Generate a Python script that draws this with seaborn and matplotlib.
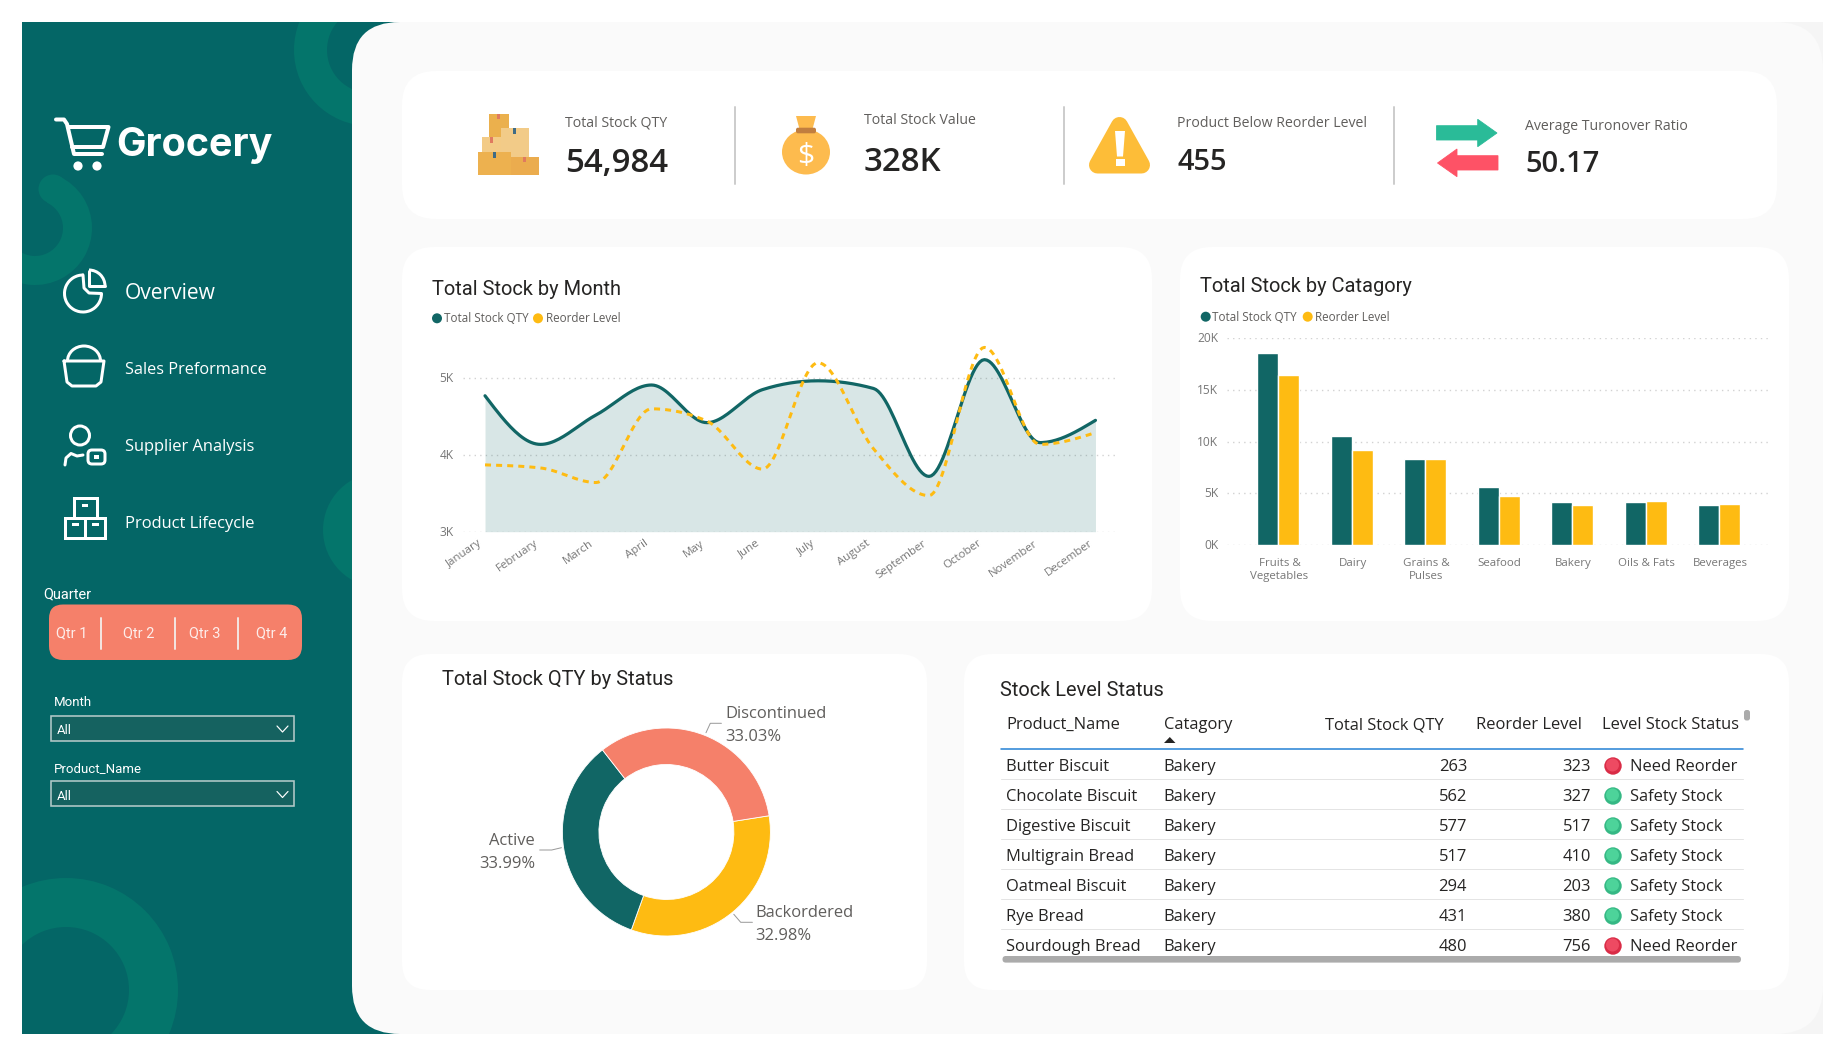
import numpy as np
import pandas as pd
import matplotlib
matplotlib.use("Agg")
import matplotlib.pyplot as plt
import seaborn as sns
from matplotlib.patches import Arc, Circle, Ellipse, FancyBboxPatch, Polygon, Rectangle, Wedge
from matplotlib.ticker import FuncFormatter
from matplotlib.transforms import ScaledTranslation

# chart values
months = ["January", "February", "March", "April", "May", "June", "July",
          "August", "September", "October", "November", "December"]
month_stock = [4770, 4137, 4520, 4910, 4420, 4850, 4965, 4865, 3720, 5240, 4160, 4450]
month_reorder = [3870, 3830, 3640, 4600, 4440, 3815, 5200, 4080, 3470, 5400, 4137, 4290]
month_ticks = [3000, 4000, 5000]

categories = ["Fruits &\nVegetables", "Dairy", "Grains &\nPulses", "Seafood",
              "Bakery", "Oils & Fats", "Beverages"]
category_stock = [18520, 10580, 8300, 5630, 4210, 4150, 3860]
category_reorder = [16400, 9200, 8330, 4760, 3890, 4280, 3990]
category_ticks = [0, 5000, 10000, 15000, 20000]

statuses = ["Backordered", "Active", "Discontinued"]
status_share = [32.98, 33.99, 33.03]

table_headers = ["Product_Name", "Catagory", "Total Stock QTY", "Reorder Level", "Level Stock Status"]
products = ["Butter Biscuit", "Chocolate Biscuit", "Digestive Biscuit", "Multigrain Bread",
            "Oatmeal Biscuit", "Rye Bread", "Sourdough Bread"]
product_category = ["Bakery"] * 7
product_stock = [263, 562, 577, 517, 294, 431, 480]
product_reorder = [323, 327, 517, 410, 203, 380, 756]
product_status = ["Need Reorder", "Safety Stock", "Safety Stock", "Safety Stock",
                  "Safety Stock", "Safety Stock", "Need Reorder"]

kpi_labels = ["Total Stock QTY", "Total Stock Value", "Product Below Reorder Level", "Average Turonover Ratio"]
kpi_values = ["54,984", "328K", "455", "50.17"]
menu_items = ["Overview", "Sales Preformance", "Supplier Analysis", "Product Lifecycle"]
quarters = ["Qtr 1", "Qtr 2", "Qtr 3", "Qtr 4"]

TEAL = "#116665"
YELLOW = "#FEBB12"
SALMON = "#F5806A"
SIDEBAR = "#046666"
DECOR = "#04756B"
PANEL = "#FAFAFA"
INK = "#252423"
SEG = "Open Sans"
DIN = "Roboto"

W, H = 1845, 1058

sns.set_theme(style="white")
plt.rcParams["font.family"] = [SEG, "DejaVu Sans"]

fig = plt.figure(figsize=(W / 100, H / 100), dpi=100, facecolor="white")
bg = fig.add_axes([0, 0, 1, 1], zorder=0)
bg.set_xlim(0, W)
bg.set_ylim(H, 0)
bg.axis("off")


def px(size):
    return size * 0.72


def ax_px(x0, y0, x1, y1):
    ax = fig.add_axes([x0 / W, 1 - y1 / H, (x1 - x0) / W, (y1 - y0) / H], zorder=2)
    ax.patch.set_alpha(0)
    return ax


def card(x0, y0, x1, y1, r=30, color="white", z=2):
    bg.add_patch(FancyBboxPatch((x0, y0), x1 - x0, y1 - y0, boxstyle=f"round,pad=0,rounding_size={r}",
                                fc=color, ec="none", zorder=z))


def label(x, y, s, size, color=INK, ha="left", family=SEG, weight="normal", z=6):
    return bg.text(x, y - 1, s, fontsize=px(size), color=color, ha=ha, va="center_baseline",
                   family=family, weight=weight, zorder=z)


def stroke(points, lw=3, color="white", z=5):
    xs, ys = zip(*points)
    bg.plot(xs, ys, color=color, lw=px(lw), solid_capstyle="round", solid_joinstyle="round", zorder=z)


def box(x0, y0, x1, y1, color, z=5):
    bg.add_patch(Rectangle((x0, y0), x1 - x0, y1 - y0, fc=color, ec="none", zorder=z))


def nudge(labels, dx=0, dy=0):
    for t in labels:
        t.set_transform(t.get_transform() + ScaledTranslation(dx / 100, dy / 100, fig.dpi_scale_trans))


def monotone_curve(y, n=24):
    # same curve the dashboard draws between the monthly values
    y = np.asarray(y, dtype=float)
    s = np.diff(y)
    t = np.zeros(len(y))
    for i in range(1, len(y) - 1):
        p = (s[i - 1] + s[i]) / 2
        t[i] = (np.sign(s[i - 1]) + np.sign(s[i])) * min(abs(s[i - 1]), abs(s[i]), 0.5 * abs(p))
    t[0] = (3 * s[0] - t[1]) / 2
    t[-1] = (3 * s[-1] - t[-2]) / 2
    xs, ys = [], []
    for i in range(len(y) - 1):
        u = np.linspace(0, 1, n, endpoint=False)
        ys.extend((2 * u**3 - 3 * u**2 + 1) * y[i] + (u**3 - 2 * u**2 + u) * t[i]
                  + (-2 * u**3 + 3 * u**2) * y[i + 1] + (u**3 - u**2) * t[i + 1])
        xs.extend(i + u)
    return np.append(xs, len(y) - 1), np.append(ys, y[-1])


# page background
sidebar = Rectangle((22, 22), 378, 1011.5, fc=SIDEBAR, ec="none", zorder=1)
bg.add_patch(sidebar)
box(1700, 22, 1823, 1034, "#F5F5F5", z=1)
decor = [
    Wedge((370, 50), 76, 0, 360, width=33, fc=DECOR, ec="none", zorder=1.2),
    Wedge((35, 228), 57, -65, 190, width=29, fc=DECOR, ec="none", zorder=1.2),
    Circle((53, 189), 14.5, fc=DECOR, ec="none", zorder=1.2),
    Circle((380.6, 530), 57.6, fc=DECOR, ec="none", zorder=1.2),
    Wedge((66, 990), 112, 0, 360, width=49, fc=DECOR, ec="none", zorder=1.2),
]
for patch in decor:
    bg.add_patch(patch)
    patch.set_clip_path(sidebar)
card(352, 22, 1823, 1034, r=48, color=PANEL, z=1.5)

card(402, 71, 1777, 219, r=34)
card(402, 247, 1152, 621, r=32)
card(1180, 247, 1789, 621, r=32)
card(402, 654, 927, 990, r=28)
card(964, 654, 1789, 990, r=28)

# sidebar: logo
stroke([(56, 119.5), (64, 119.5), (67, 124), (74, 154), (102, 154)], lw=4)
stroke([(68, 127), (108.5, 127), (103, 147), (72, 147)], lw=4)
for cx in (78, 97):
    bg.add_patch(Circle((cx, 166), 4.6, fc="white", ec="none", zorder=5))
label(116.5, 143, "Grocery", 39.5, "white", family="Inter", weight="bold")

# sidebar: menu
for name, y, size in zip(menu_items, [292, 369, 446, 523], [21, 16.2, 16.5, 16.5]):
    label(125, y, name, size, "white")

bg.add_patch(Arc((83, 293.5), 37, 37, theta1=0, theta2=272, color="white", lw=px(3), zorder=5))
stroke([(83, 275), (84, 288), (89, 293), (101.5, 293.5)])
stroke([(89, 271), (89, 286), (105, 286)])
bg.add_patch(Arc((89, 286), 32, 32, theta1=-90, theta2=0, color="white", lw=px(3), zorder=5))

bg.add_patch(Arc((84, 361), 33, 30, theta1=180, theta2=360, color="white", lw=px(3), zorder=5))
stroke([(64, 361), (104, 361), (101, 382), (96, 386), (72, 386), (67, 382), (64, 361)])

bg.add_patch(Circle((80, 435.5), 9.5, fc="none", ec="white", lw=px(3), zorder=5))
stroke([(65, 465), (66, 458), (71, 453.5), (77, 456), (83, 455)])
bg.add_patch(FancyBboxPatch((88, 450), 17, 14, boxstyle="round,pad=0,rounding_size=4", fc="none",
                            ec="white", lw=px(3), zorder=5))
box(93.5, 454.5, 99, 459, "white")

bg.add_patch(Rectangle((74, 498), 23, 20, fc="none", ec="white", lw=px(3), zorder=5))
bg.add_patch(Rectangle((65, 518), 20, 20, fc="none", ec="white", lw=px(3), zorder=5))
bg.add_patch(Rectangle((85, 518), 20, 20, fc="none", ec="white", lw=px(3), zorder=5))
box(82, 503.5, 88, 506.5, "white")
box(72, 522.5, 79, 525.5, "white")
box(92, 522.5, 99, 525.5, "white")

# sidebar: slicers
label(43, 593.5, "Quarter", 14.5, "white", family=DIN)
card(49, 604.5, 302, 660, r=14, color=SALMON)
for name, x in zip(quarters, [71.7, 138.7, 205, 271.7]):
    label(x, 632.5, name, 14.5, "#FDEDEA", ha="center", family=DIN)
for x in (101, 175, 238):
    stroke([(x, 618), (x, 649), ], lw=2, color="#F3E3DF")

for name, y0 in zip(["Month", "Product_Name"], [715.5, 781]):
    label(54, y0 - 13, name, 13.2, "white", family=DIN)
    bg.add_patch(Rectangle((51, y0), 243, 25, fc="#156260", ec="#B3C9C8", lw=px(1.6), zorder=5))
    label(56.5, y0 + 15, "All", 13, "white", family=DIN)
    stroke([(277, y0 + 10.5), (282.5, y0 + 16.5), (288, y0 + 10.5)], lw=1.2)

# KPI strip
for x in (734.5, 1064, 1394):
    stroke([(x, 107), (x, 184)], lw=2, color="#CDCDCD")

kpi_x = [565, 864, 1177, 1525]
label_y = [122, 120, 122.5, 125]
value_y = [161, 159.5, 160, 162.5]
value_size = [33, 33, 29, 29]
for lab, val, x, ly, vy, vs in zip(kpi_labels, kpi_values, kpi_x, label_y, value_y, value_size):
    label(x, ly, lab, 14.1, "#605E5C")
    label(x, vy, val, vs, INK, weight="semibold")

# boxes icon
box(489, 114, 508.6, 137.5, "#EBB04D")
box(482.4, 137.3, 500.8, 152.3, "#F3CB86")
box(500.8, 128.3, 529, 157, "#F2CB88")
box(478, 152.3, 510.5, 175, "#EDB14F")
box(510.5, 157, 539, 175, "#EBAC4E")
for x0, y0, col in [(497, 114, "#E07A5F"), (513, 128.3, "#3F6B85"), (489.7, 137.3, "#E07A5F"),
                    (492.6, 152.3, "#3F6B85"), (523, 157, "#E07A5F")]:
    box(x0, y0, x0 + 3.4, y0 + 5.4, col, z=5.5)

# money bag icon
bg.add_patch(Ellipse((806, 152), 48, 45, fc="#FDBB4E", ec="none", zorder=5))
bg.add_patch(Polygon([(796, 116), (816, 116), (812, 131), (800, 131)], fc="#FDBB4E", ec="none", zorder=5))
bg.add_patch(FancyBboxPatch((796, 127.7), 20, 5.6, boxstyle="round,pad=0,rounding_size=2", fc="#C17E3F",
                            ec="none", zorder=5.5))
label(806, 154, "$", 30, "white", ha="center")

# warning icon
bg.add_patch(Polygon([(1119.5, 125.5), (1097.5, 165), (1141.5, 165)], fc="#FDBD38", ec="#FDBD38",
                     lw=px(17), joinstyle="round", zorder=5))
bg.add_patch(Polygon([(1115, 131), (1125, 131), (1123, 156.5), (1117, 156.5)], fc="white", ec="none", zorder=5.5))
box(1115.5, 159, 1124.5, 166, "white", z=5.5)

# turnover arrows
bg.add_patch(Polygon([(1436.5, 125.7), (1477.7, 125.7), (1477.7, 119.3), (1497, 133), (1477.7, 146.7),
                      (1477.7, 140), (1436.5, 140)], fc="#2ABB98", ec="#2ABB98", lw=0.6, zorder=5))
bg.add_patch(Polygon([(1498, 155.7), (1457, 155.7), (1457, 149), (1437.5, 163), (1457, 176.7),
                      (1457, 170), (1498, 170)], fc="#FE5266", ec="#FE5266", lw=0.6, zorder=5))

# line chart
label(431.5, 288.5, "Total Stock by Month", 20, INK, family=DIN)
bg.scatter([437, 538], [318.3, 318.3], s=px(10) ** 2, c=[TEAL, YELLOW], linewidths=0, zorder=6)
label(443.5, 318.5, "Total Stock QTY", 11.6, "#605E5C")
label(546.5, 318.5, "Reorder Level", 11.6, "#605E5C")

ax_line = ax_px(462.6, 339.7, 1116, 531.7)
curve_x, curve_stock = monotone_curve(month_stock)
_, curve_reorder = monotone_curve(month_reorder)
month_df = pd.DataFrame({"pos": curve_x, "stock": curve_stock, "reorder": curve_reorder})
ax_line.fill_between(curve_x, 3000, curve_stock, color=TEAL, alpha=0.16, lw=0, zorder=2)
sns.lineplot(data=month_df, x="pos", y="stock", color=TEAL, linewidth=px(3.2), estimator=None,
             ax=ax_line, zorder=3)
sns.lineplot(data=month_df, x="pos", y="reorder", color=YELLOW, linewidth=px(3), estimator=None,
             linestyle=(0, (2, 1.7)), ax=ax_line, zorder=4)
ax_line.set_xlim(-0.404, 11.37)
ax_line.set_ylim(3000, 5500)
ax_line.set_xticks(range(12))
ax_line.set_xticklabels(months, rotation=35, ha="right", rotation_mode="anchor")
ax_line.set_yticks(month_ticks)
ax_line.yaxis.set_major_formatter(FuncFormatter(lambda v, _: f"{v / 1000:.0f}K"))
ax_line.set_xlabel("")
ax_line.set_ylabel("")
ax_line.yaxis.grid(True, color="#D2D2D2", linestyle=(0, (1, 3)), linewidth=1)
ax_line.set_axisbelow(True)
sns.despine(ax=ax_line, left=True, bottom=True)
ax_line.tick_params(axis="x", length=0, pad=px(6), labelsize=px(11.5), labelcolor="#777777")
ax_line.tick_params(axis="y", length=0, pad=px(9), labelsize=px(12), labelcolor="#777777")
nudge(ax_line.get_xticklabels(), dx=-7)
nudge(ax_line.get_yticklabels(), dy=1)

# bar chart
label(1200.5, 286, "Total Stock by Catagory", 20, INK, family=DIN)
bg.scatter([1205.7, 1307.7], [316.7, 316.7], s=px(10) ** 2, c=[TEAL, YELLOW], linewidths=0, zorder=6)
label(1212.5, 317, "Total Stock QTY", 11.6, "#605E5C")
label(1315, 317, "Reorder Level", 11.6, "#605E5C")

ax_bar = ax_px(1227.4, 338, 1769, 545.3)
bar_df = pd.DataFrame({
    "Category": categories * 2,
    "Measure": ["Total Stock QTY"] * 7 + ["Reorder Level"] * 7,
    "Qty": category_stock + category_reorder,
})
sns.barplot(data=bar_df, x="Category", y="Qty", hue="Measure", palette=[TEAL, YELLOW], width=0.572,
            gap=0, saturation=1, legend=False, ax=ax_bar, zorder=3)
ax_bar.set_xlim(-0.695, 6.68)
ax_bar.set_ylim(0, 20000)
ax_bar.set_yticks(category_ticks)
ax_bar.yaxis.set_major_formatter(FuncFormatter(lambda v, _: f"{v / 1000:.0f}K"))
ax_bar.set_xlabel("")
ax_bar.set_ylabel("")
ax_bar.yaxis.grid(True, color="#D2D2D2", linestyle=(0, (1, 3)), linewidth=1)
ax_bar.set_axisbelow(True)
sns.despine(ax=ax_bar, left=True, bottom=True)
ax_bar.tick_params(axis="x", length=0, pad=px(13), labelsize=px(11.5), labelcolor="#777777")
ax_bar.tick_params(axis="y", length=0, pad=px(9), labelsize=px(12), labelcolor="#777777")
nudge(ax_bar.get_xticklabels(), dx=1)
nudge(ax_bar.get_yticklabels(), dy=1)

# donut
label(442, 678.5, "Total Stock QTY by Status", 20, INK, family=DIN)
ax_pie = ax_px(666.4 - 106, 832 - 106, 666.4 + 106, 832 + 106)
ax_pie.pie(status_share, colors=[YELLOW, TEAL, SALMON], startangle=9, counterclock=False, radius=1,
           wedgeprops=dict(width=0.351, edgecolor="white", linewidth=0.6))
ax_pie.set_xlim(-106 / 104, 106 / 104)
ax_pie.set_ylim(-106 / 104, 106 / 104)

status_pos = {"Discontinued": (725, 713, 736, "left"), "Active": (535, 840, 862.7, "right"),
              "Backordered": (755, 912, 935, "left")}
for name, share in zip(statuses, status_share):
    x, y1, y2, ha = status_pos[name]
    label(x, y1, name, 16.5, "#605E5C", ha=ha)
    label(x, y2, f"{share:.2f}%", 16.5, "#605E5C", ha=ha)
stroke([(706, 732.7), (710.3, 723.3), (721.4, 723.3)], lw=1, color="#9A9A9A")
stroke([(561.4, 847.7), (551.7, 850), (539.7, 850)], lw=1, color="#9A9A9A")
stroke([(733.8, 914.3), (740.7, 922.3), (752.4, 922.3)], lw=1, color="#9A9A9A")

# table
label(1000.5, 689, "Stock Level Status", 20, INK, family=DIN)
header_x = [(1006, "left"), (1163.7, "left"), (1444, "right"), (1582, "right"), (1738.7, "right")]
for head, (x, ha) in zip(table_headers, header_x):
    label(x, 724, head, 16.5, "#252423", ha=ha)
bg.add_patch(Polygon([(1164, 743), (1175.5, 743), (1169.8, 737)], fc="#252423", ec="none", zorder=6))
stroke([(1001, 749), (1742.8, 749)], lw=1.6, color="#2E86D6")

row_y = [766, 796, 826, 856, 886, 916, 946]
for i, y in enumerate(row_y):
    label(1006, y, products[i], 16.5, INK)
    label(1163.7, y, product_category[i], 16.5, INK)
    label(1467, y, str(product_stock[i]), 16.5, INK, ha="right")
    label(1591, y, str(product_reorder[i]), 16.5, INK, ha="right")
    need = product_status[i] == "Need Reorder"
    bg.add_patch(Circle((1613, y), 8.7, fc="#D92C46" if need else "#35B884", ec="none", zorder=6))
    bg.add_patch(Circle((1612.5, y - 1), 6.5, fc="#EE4A62" if need else "#4DD39A", ec="none", zorder=6.1))
    label(1630.5, y, product_status[i], 16.5, INK)
    if i < 6:
        stroke([(1001, y + 13), (1742.8, y + 13)], lw=1, color="#E4E4E4")

bg.add_patch(FancyBboxPatch((1002.5, 956), 738.5, 6.6, boxstyle="round,pad=0,rounding_size=3.3", fc="#ABABAB",
                            ec="none", zorder=8))
bg.add_patch(FancyBboxPatch((1744, 710), 6, 10.5, boxstyle="round,pad=0,rounding_size=2.5", fc="#ABABAB",
                            ec="none", zorder=8))

fig.savefig("out.png", dpi=100)
